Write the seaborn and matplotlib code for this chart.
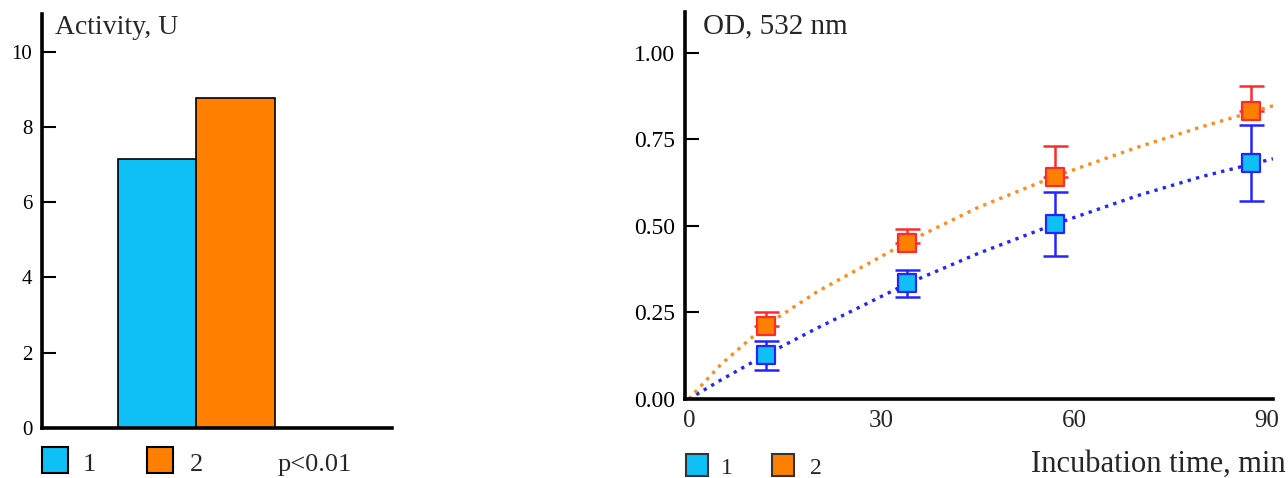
import numpy as np
import pandas as pd
import seaborn as sns
from matplotlib import pyplot as plt
from matplotlib.patches import Rectangle

# left panel: activity per group
groups = ['1', '2']
activity = [7.15, 8.78]

# right panel: OD at 532 nm vs incubation time
time_points = [12, 34, 57, 87.5]
od_1 = [0.126, 0.335, 0.505, 0.681]
od_1_err = [0.042, 0.039, 0.092, 0.110]
od_2 = [0.212, 0.451, 0.640, 0.832]
od_2_err_up = [0.038, 0.039, 0.091, 0.073]

# fitted curves
fit_time = [0, 5, 12, 20, 34, 45, 57, 70, 80, 91]
fit_1 = [0.0, 0.055, 0.128, 0.205, 0.333, 0.420, 0.505, 0.588, 0.643, 0.694]
fit_2 = [0.0, 0.100, 0.213, 0.310, 0.453, 0.553, 0.643, 0.728, 0.787, 0.847]

BLUE_FILL = '#0fc0f6'
ORANGE_FILL = '#ff8000'
BLUE_LINE = '#2424ff'
RED_LINE = '#ff2a2a'
ORANGE_DOT = '#ff8c1a'

sns.set_style('white')
plt.rcParams['font.family'] = ['Liberation Serif', 'DejaVu Serif']

W, H = 1288, 478
fig = plt.figure(figsize=(W / 100, H / 100), dpi=100)


def px(x, y):
    return x / W, 1 - y / H


def axes_box(x0, y0, x1, y1):
    return [x0 / W, 1 - y1 / H, (x1 - x0) / W, (y1 - y0) / H]


def style_axes(ax):
    for side in ['top', 'right']:
        ax.spines[side].set_visible(False)
    for side in ['left', 'bottom']:
        ax.spines[side].set_linewidth(2.6)
        ax.spines[side].set_color('black')
    ax.tick_params(axis='y', left=True, direction='in', length=10, width=1.5, pad=7, colors='black')
    ax.set_xlabel('')
    ax.set_ylabel('')


# ---------- left: bar chart ----------
ax1 = fig.add_axes(axes_box(42, 14, 392, 428))
bar_df = pd.DataFrame({'group': groups, 'activity': activity})
sns.barplot(data=bar_df, x='group', y='activity', hue='group', palette=[BLUE_FILL, ORANGE_FILL],
            saturation=1, width=1.0, edgecolor='black', linewidth=1.2, legend=False, ax=ax1)
ax1.set_xlim(-1.47, 3.0)
ax1.set_ylim(0, 11)
ax1.set_yticks([0, 2, 4, 6, 8, 10])
ax1.set_xticks([])
style_axes(ax1)
ax1.tick_params(axis='y', labelsize=15)
fig.text(*px(55, 34), 'Activity, U', fontsize=20, va='baseline', ha='left')

# ---------- right: kinetics ----------
ax2 = fig.add_axes(axes_box(685, 12, 1273, 399))
fit_df = pd.DataFrame({'time': fit_time * 2, 'od': fit_1 + fit_2,
                       'series': ['1'] * len(fit_time) + ['2'] * len(fit_time)})
sns.lineplot(data=fit_df, x='time', y='od', hue='series', palette=[BLUE_LINE, ORANGE_DOT],
             linewidth=2.4, legend=False, ax=ax2, zorder=1)
for line in ax2.lines:
    line.set_linestyle((0, (1.0, 1.6)))

ax2.errorbar(time_points, od_1, yerr=od_1_err, fmt='none', ecolor=BLUE_LINE,
             elinewidth=1.8, capsize=9, capthick=1.8, zorder=2)
ax2.errorbar(time_points, od_2, yerr=[[0] * len(od_2), od_2_err_up], fmt='none', ecolor=RED_LINE,
             elinewidth=1.8, capsize=9, capthick=1.8, zorder=2)

pts_df = pd.DataFrame({'time': time_points * 2, 'od': od_1 + od_2,
                       'series': ['1'] * len(time_points) + ['2'] * len(time_points)})
sns.scatterplot(data=pts_df[pts_df['series'] == '1'], x='time', y='od', marker='s', s=175,
                color=BLUE_FILL, edgecolor=BLUE_LINE, linewidth=1.6, legend=False, ax=ax2, zorder=3)
sns.scatterplot(data=pts_df[pts_df['series'] == '2'], x='time', y='od', marker='s', s=175,
                color=ORANGE_FILL, edgecolor=RED_LINE, linewidth=1.6, legend=False, ax=ax2, zorder=3)

ax2.set_xlim(-0.6, 91)
ax2.set_ylim(0, 1.118)
ax2.set_yticks([0, 0.25, 0.5, 0.75, 1.0])
ax2.set_yticklabels(['0.00', '0.25', '0.50', '0.75', '1.00'])
ax2.set_xticks([0, 30, 60, 90])
style_axes(ax2)
ax2.tick_params(axis='y', labelsize=17)
ax2.tick_params(axis='x', bottom=False, length=0, pad=8, labelsize=18)
fig.text(*px(703, 33), 'OD, 532 nm', fontsize=21, va='baseline', ha='left')

# ---------- legends below the panels ----------
def legend_square(x0, y0, x1, y1, color, edge='black'):
    fx0, fy1 = px(x0, y1)
    fx1, fy0 = px(x1, y0)
    fig.add_artist(Rectangle((fx0, fy1), fx1 - fx0, fy0 - fy1, transform=fig.transFigure,
                             facecolor=color, edgecolor=edge, linewidth=1.5))


legend_square(42, 447, 68, 473, BLUE_FILL)
legend_square(147, 447, 173, 473, ORANGE_FILL)
fig.text(*px(83, 471), '1', fontsize=19, va='baseline')
fig.text(*px(190, 471), '2', fontsize=19, va='baseline')
fig.text(*px(278, 471), 'p<0.01', fontsize=19, va='baseline')

legend_square(686, 454, 708, 476, BLUE_FILL, edge='#333333')
legend_square(772, 454, 794, 476, ORANGE_FILL, edge='#333333')
fig.text(*px(721, 474), '1', fontsize=17, va='baseline')
fig.text(*px(810, 474), '2', fontsize=17, va='baseline')
fig.text(*px(1286, 472), 'Incubation time, min', fontsize=22, va='baseline', ha='right')

fig.savefig('out.png', dpi=100)
